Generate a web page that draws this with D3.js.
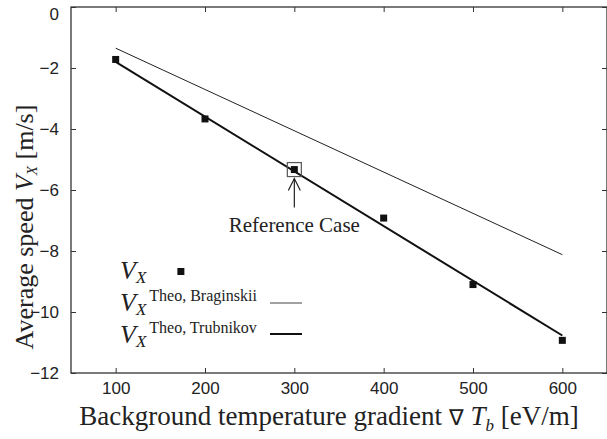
<!DOCTYPE html>
<html><head><meta charset="utf-8">
<script src="https://cdnjs.cloudflare.com/ajax/libs/d3/7.8.5/d3.min.js"></script>
<style>body{margin:0;background:#fff}svg{display:block}</style>
</head><body>
<svg id="c" width="607" height="439"></svg>
<script>
const gradients = [100, 200, 300, 400, 500, 600];
const vxSim = [-1.72, -3.67, -5.33, -6.92, -9.1, -10.93];
const theoX = [100, 600];
const vxBraginskii = [-1.35, -8.12];
const vxTrubnikov = [-1.8, -10.77];
const xTicks = [100, 200, 300, 400, 500, 600];
const yTicks = [0, -2, -4, -6, -8, -10, -12];
const refCase = {x: 300, y: -5.33, label: "Reference Case"};

const svg = d3.select("#c");
const L = 71, R = 607, T = 7, B = 373;
const x = d3.scaleLinear().domain([50, 650]).range([L, R]);
const y = d3.scaleLinear().domain([0, -12]).range([T, B]);

const tickFont = "'Liberation Sans', Arial, sans-serif";
const serif = "'Liberation Serif', 'Times New Roman', serif";

// frame
svg.append("rect").attr("x", L).attr("y", T).attr("width", R - L).attr("height", B - T)
  .attr("fill", "none").attr("stroke", "#222").attr("stroke-width", 1.2);

const ax = svg.append("g").attr("transform", `translate(0,${B})`)
  .call(d3.axisBottom(x).tickValues(xTicks).tickSize(-5).tickPadding(9).tickFormat(d3.format("d")));
const axTop = svg.append("g").attr("transform", `translate(0,${T})`)
  .call(d3.axisTop(x).tickValues(xTicks).tickSize(-5).tickFormat(""));
const ay = svg.append("g").attr("transform", `translate(${L},0)`)
  .call(d3.axisLeft(y).tickValues(yTicks).tickSize(-5).tickPadding(12).tickFormat(d3.format("d")));
const ayR = svg.append("g").attr("transform", `translate(${R},0)`)
  .call(d3.axisRight(y).tickValues(yTicks).tickSize(-5).tickFormat(""));
[ax, axTop, ay, ayR].forEach(g => {
  g.select(".domain").remove();
  g.selectAll(".tick line").attr("stroke", "#333");
  g.selectAll("text").attr("font-family", tickFont).attr("font-size", 17).attr("fill", "#222");
});
ay.selectAll(".tick text").filter(d => d === 0).attr("dy", "0.75em");

// lines
const line = d3.line().x(d => x(d[0])).y(d => y(d[1]));
svg.append("path").datum(theoX.map((v, i) => [v, vxBraginskii[i]]))
  .attr("d", line).attr("fill", "none").attr("stroke", "#222").attr("stroke-width", 1);
svg.append("path").datum(theoX.map((v, i) => [v, vxTrubnikov[i]]))
  .attr("d", line).attr("fill", "none").attr("stroke", "#111").attr("stroke-width", 2);

// points
svg.selectAll("rect.pt").data(gradients.map((g, i) => [g, vxSim[i]])).enter()
  .append("rect").attr("class", "pt")
  .attr("x", d => x(d[0]) - 3.5).attr("y", d => y(d[1]) - 3.5)
  .attr("width", 7).attr("height", 7).attr("fill", "#111");

// reference case annotation
const rx = x(refCase.x), ry = y(refCase.y);
svg.append("rect").attr("x", rx - 7).attr("y", ry - 7).attr("width", 14).attr("height", 14)
  .attr("fill", "none").attr("stroke", "#555").attr("stroke-width", 1.2);
svg.append("line").attr("x1", rx).attr("x2", rx).attr("y1", ry + 38).attr("y2", ry + 9)
  .attr("stroke", "#222").attr("stroke-width", 1.2);
svg.append("path").attr("d", `M${rx - 6},${ry + 21} L${rx},${ry + 9} L${rx + 6},${ry + 21}`)
  .attr("fill", "none").attr("stroke", "#222").attr("stroke-width", 1.2);
svg.append("text").attr("x", rx).attr("y", ry + 62).attr("text-anchor", "middle")
  .attr("font-family", serif).attr("font-size", 21).attr("fill", "#222").text(refCase.label);

// legend
function vx(t, xx, yy, sup) {
  const tx = svg.append("text").attr("x", xx).attr("y", yy).attr("font-family", serif).attr("fill", "#222");
  tx.append("tspan").attr("font-style", "italic").attr("font-size", 26).text("V");
  tx.append("tspan").attr("font-style", "italic").attr("font-size", 17).attr("dy", 4).text("X");
  if (sup) tx.append("tspan").attr("font-size", 16).attr("dy", -14).attr("dx", 3).text(sup);
  return tx;
}
vx(svg, 120, 279, null);
svg.append("rect").attr("x", x(173) - 3.5).attr("y", 268).attr("width", 7).attr("height", 7).attr("fill", "#111");
vx(svg, 120, 311, "Theo, Braginskii");
svg.append("line").attr("x1", 270).attr("x2", 302).attr("y1", 303).attr("y2", 303).attr("stroke", "#444").attr("stroke-width", 1);
vx(svg, 120, 343, "Theo, Trubnikov");
svg.append("line").attr("x1", 270).attr("x2", 302).attr("y1", 334).attr("y2", 334).attr("stroke", "#111").attr("stroke-width", 2);

// axis labels
const xl = svg.append("text").attr("x", 329).attr("y", 425).attr("text-anchor", "middle")
  .attr("font-family", serif).attr("font-size", 27).attr("fill", "#222");
xl.append("tspan").text("Background temperature gradient ");
xl.append("tspan").attr("font-size", 22).text("\u2207");
xl.append("tspan").attr("font-style", "italic").text(" T");
xl.append("tspan").attr("font-style", "italic").attr("font-size", 17).attr("dy", 6).text("b");
xl.append("tspan").attr("dy", -6).text(" [eV/m]");

const yl = svg.append("text").attr("transform", "translate(33,227) rotate(-90)").attr("text-anchor", "middle")
  .attr("font-family", serif).attr("font-size", 26).attr("fill", "#222");
yl.append("tspan").text("Average speed  ");
yl.append("tspan").attr("font-style", "italic").text("V");
yl.append("tspan").attr("font-style", "italic").attr("font-size", 15).attr("dy", 4).text("X");
yl.append("tspan").attr("dy", -4).text(" [m/s]");
</script>
</body></html>
